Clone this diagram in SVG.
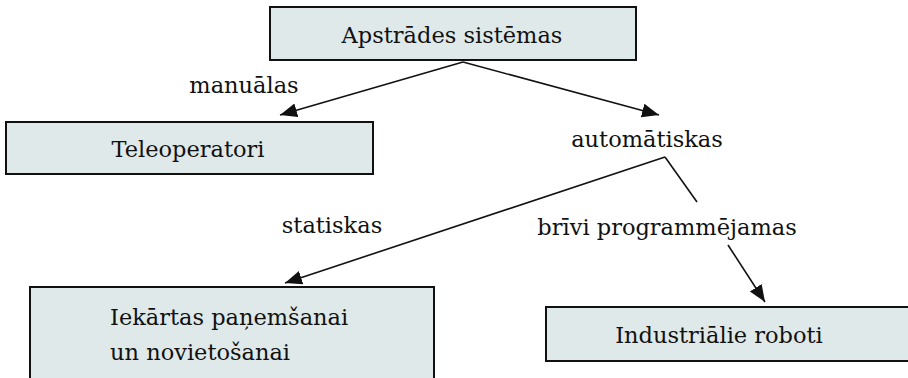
<svg xmlns="http://www.w3.org/2000/svg" width="908" height="378" viewBox="0 0 908 378">
  <style>
    .box { fill: #dfe9e9; stroke: #111; stroke-width: 2; }
    .lbl { font-family: 'DejaVu Serif', serif; font-size: 22.5px; fill: #111; }
    .mid { text-anchor: middle; }
    .edge { stroke: #111; stroke-width: 1.6; fill: none; }
  </style>
  <defs>
    <marker id="arrow" markerUnits="userSpaceOnUse" markerWidth="18" markerHeight="16" refX="17" refY="8" orient="auto">
      <path d="M0,1 L17,8 L0,15 Z" fill="#111"/>
    </marker>
  </defs>
  <rect width="908" height="378" fill="#fff"/>

  <g id="connectors">
    <line class="edge" x1="463" y1="62" x2="280" y2="115" marker-end="url(#arrow)"/>
    <line class="edge" x1="463" y1="62" x2="659" y2="115" marker-end="url(#arrow)"/>
    <line class="edge" x1="665" y1="157" x2="285" y2="283" marker-end="url(#arrow)"/>
    <line class="edge" x1="665" y1="157" x2="697" y2="202"/>
    <line class="edge" x1="728" y1="245" x2="765" y2="302" marker-end="url(#arrow)"/>
    <text class="lbl mid" x="244" y="93">manuālas</text>
    <text class="lbl mid" x="647" y="147">automātiskas</text>
    <text class="lbl mid" x="332" y="233">statiskas</text>
    <text class="lbl mid" x="667" y="235">brīvi programmējamas</text>
  </g>

  <g id="apstrades-sistemas">
    <rect class="box" x="270" y="7" width="366" height="53"/>
    <text class="lbl mid" x="452" y="43">Apstrādes sistēmas</text>
  </g>

  <g id="teleoperatori">
    <rect class="box" x="6" y="122" width="367" height="52"/>
    <text class="lbl mid" x="188" y="157">Teleoperatori</text>
  </g>

  <g id="iekartas">
    <rect class="box" x="30" y="287" width="404" height="110"/>
    <text class="lbl" x="110" y="325">Iekārtas paņemšanai</text>
    <text class="lbl" x="110" y="360">un novietošanai</text>
  </g>

  <g id="industrialie-roboti">
    <rect class="box" x="546" y="307" width="370" height="54"/>
    <text class="lbl mid" x="719" y="343">Industriālie roboti</text>
  </g>
</svg>
